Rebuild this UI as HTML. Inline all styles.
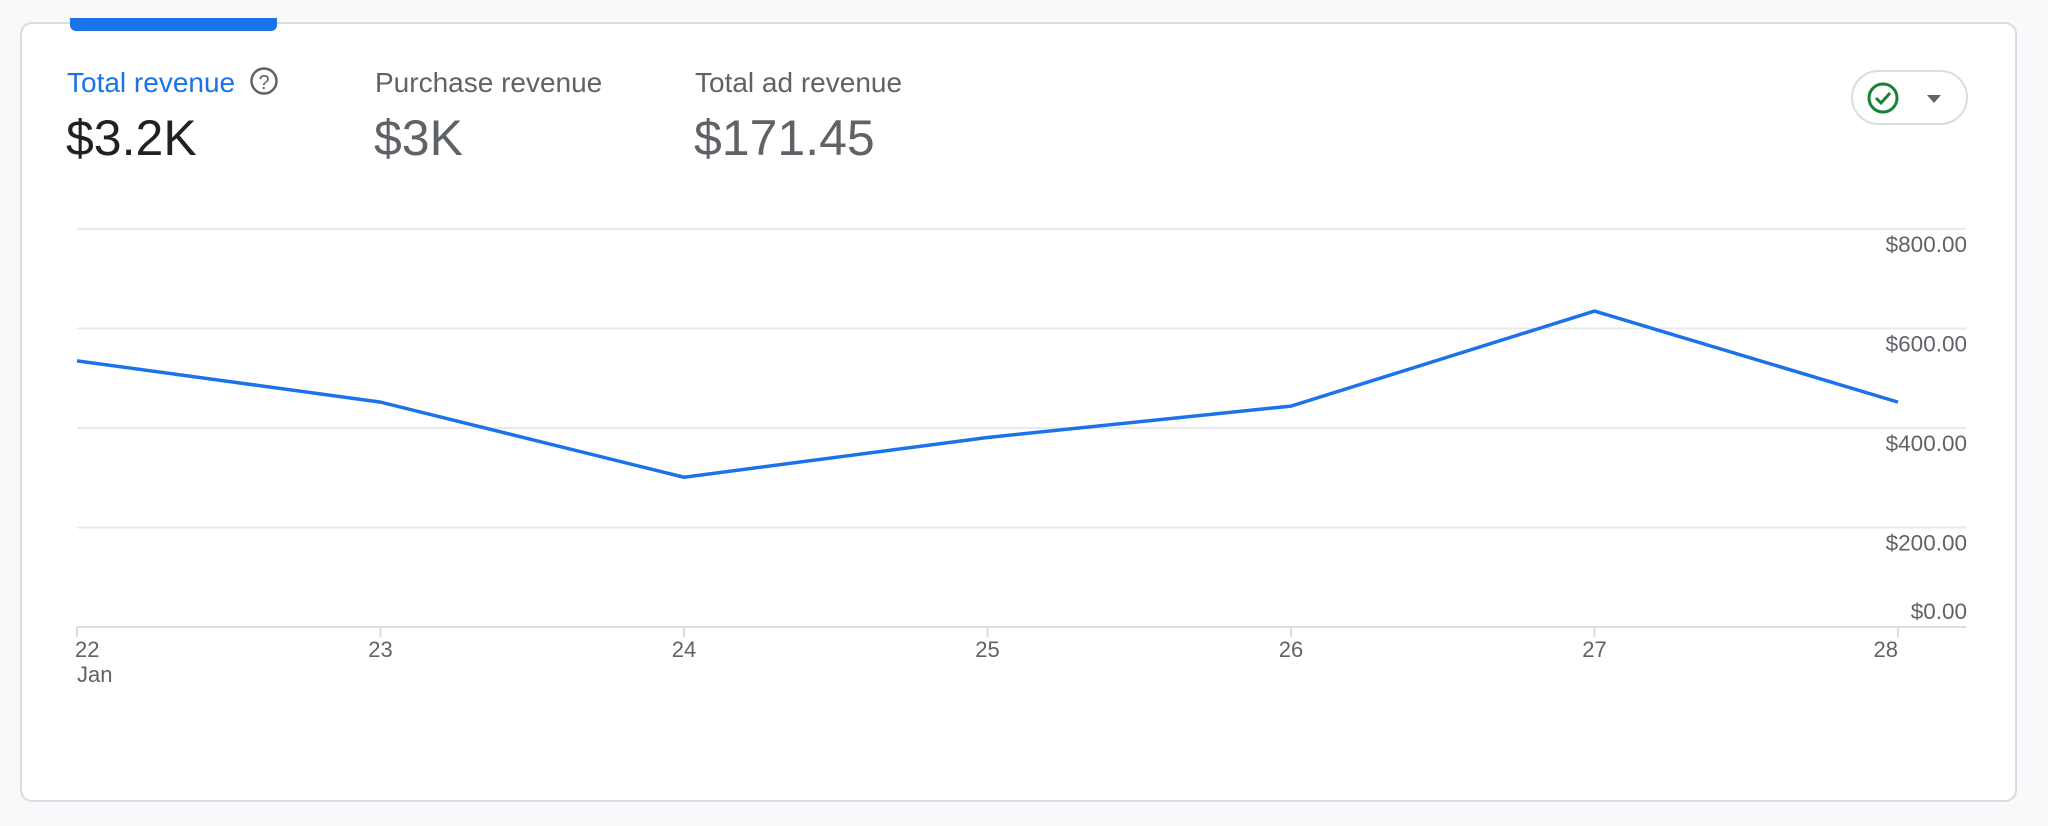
<!DOCTYPE html>
<html><head><meta charset="utf-8"><style>
body{margin:0;width:2048px;height:826px;background:#f8f9fa;font-family:"Liberation Sans",sans-serif;overflow:hidden;position:relative}
.card{position:absolute;left:20px;top:22px;width:1997px;height:780px;background:#fff;border:2px solid #dadce0;border-radius:12px;box-sizing:border-box}
.tab{position:absolute;left:70px;top:18px;width:207px;height:13px;background:#1a73e8;border-radius:0 0 6px 6px}
.t{position:absolute;font-size:28px;color:#5f6368}
.v{position:absolute;font-size:50px;color:#5f6368}
svg{position:absolute;left:0;top:0}
</style></head><body>
<div class="card"></div>
<div class="tab"></div>
<div class="t" style="left:67px;top:67px;color:#1a73e8">Total revenue</div>
<div class="v" style="left:66px;top:109px;color:#202124">$3.2K</div>
<div class="t" style="left:375px;top:67px">Purchase revenue</div>
<div class="v" style="left:374px;top:109px">$3K</div>
<div class="t" style="left:695px;top:67px">Total ad revenue</div>
<div class="v" style="left:694px;top:109px">$171.45</div>
<svg width="2048" height="826" id="chart">
<g><circle cx="264" cy="81" r="12.5" fill="none" stroke="#5f6368" stroke-width="2.5"/><text x="264" y="89" font-size="20" text-anchor="middle" fill="#5f6368" font-family="Liberation Sans">?</text></g>
<g><rect x="1852" y="71" width="115" height="53" rx="26.5" fill="#fff" stroke="#dadce0" stroke-width="2"/><circle cx="1883" cy="98" r="14" fill="none" stroke="#188038" stroke-width="3"/><path d="M1876 98 l5 5 l9 -10" fill="none" stroke="#188038" stroke-width="3"/><path d="M1927 95 h14 l-7 8z" fill="#5f6368"/></g>
</svg>
<script>
const categories=["22","23","24","25","26","27","28"];
const values=[535,452,301,381,444,635,452];
const yTicks=[0,200,400,600,800];
const yTickLabels=["$0.00","$200.00","$400.00","$600.00","$800.00"];
const svg=document.getElementById('chart');
const NS='http://www.w3.org/2000/svg';
const x0=77,x1=1898,yb=627,yt=229;
const xs=i=>x0+(x1-x0)*i/(categories.length-1);
const ys=v=>yb-(yb-yt)*v/800;
function mk(t,a){const e=document.createElementNS(NS,t);for(const k in a)e.setAttribute(k,a[k]);svg.appendChild(e);return e;}
yTicks.forEach((v,i)=>{
 const g=mk('line',{x1:x0,x2:1966,y1:ys(v),y2:ys(v),stroke:i==0?'#dadce0':'#e8eaed','stroke-width':2});
 
 
 const t=mk('text',{x:1967,y:v==0?ys(v)-8:ys(v)+23,'text-anchor':'end','font-size':22.5,fill:'#5f6368','font-family':'Liberation Sans'});
 t.textContent=yTickLabels[i];
 
 
});
categories.forEach((c,i)=>{
 const tk=mk('line',{x1:xs(i),x2:xs(i),y1:yb,y2:yb+10,stroke:'#dadce0','stroke-width':2});
 
 
 const anchor=i==0?'start':(i==categories.length-1?'end':'middle');
 const t=mk('text',{x:xs(i)+(i==0?-2:0),y:657,'text-anchor':anchor,'font-size':22,fill:'#5f6368','font-family':'Liberation Sans'});
 t.textContent=c;
 
 
});
const jan=mk('text',{x:x0,y:682,'font-size':22,fill:'#5f6368','font-family':'Liberation Sans'});
jan.textContent='Jan';


const pts=values.map((v,i)=>xs(i)+','+ys(v)).join(' ');
const pl=mk('polyline',{points:pts,fill:'none',stroke:'#1a73e8','stroke-width':3.5,'stroke-linejoin':'round'});


</script>
</body></html>
